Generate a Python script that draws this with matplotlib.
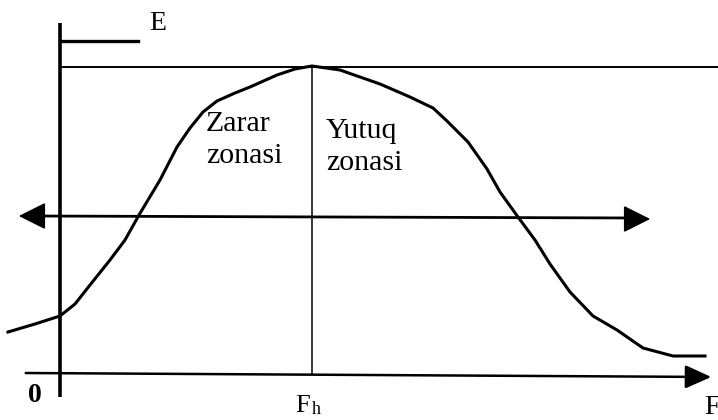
import numpy as np
import matplotlib.pyplot as plt

# egri chiziq nuqtalari (rasmdan o'qilgan)
curve_x = [-52, -25, 0, 15, 30, 50, 65, 79, 100, 117, 130, 143, 157, 175, 190, 217, 235,
           252, 280, 320, 350, 373, 387, 408, 427, 440, 458, 475, 490, 510, 533,
           557, 583, 613, 645]
curve_y = [42, 50, 58, 70, 89, 114, 134, 159, 194, 227, 246, 262, 273, 281, 287, 299, 305,
           308, 304, 290, 277, 266, 253, 232, 205, 182, 157, 134, 110, 82, 58,
           44, 26, 18, 18]

peak_x = 252
peak_y = 307
mid_y = 158
e_level = 333

zone_labels = ['Zarar\nzonasi', 'Yutuq\nzonasi']

fig = plt.figure(figsize=(7.18, 4.2), dpi=100)
ax = fig.add_axes([0, 0, 1, 1])
ax.set_xlim(-60, 658)
ax.set_ylim(-46, 374)
ax.axis('off')

serif = 'Liberation Serif'

# o'qlar
ax.plot([0, 0], [-23, 351], color='black', lw=2.6, solid_capstyle='butt')
ax.annotate('', xy=(654, -3), xytext=(-37, 1),
            arrowprops=dict(arrowstyle='-|>,head_length=1.0,head_width=0.45',
                            color='black', lw=1.8, mutation_scale=16))

# E chizig'i va yuqori chiziq
ax.plot([0, 78], [e_level, e_level], color='black', lw=2.4)
ax.plot([0, 658], [peak_y, peak_y], color='black', lw=1.4)

# markaziy vertikal chiziq
ax.plot([peak_x, peak_x], [0, peak_y], color='black', lw=1.1)

# ikki tomonlama strelka
ax.plot([-25, 575], [mid_y, mid_y - 2], color='black', lw=2.0)
ax.annotate('', xy=(-44, mid_y), xytext=(-15, mid_y),
            arrowprops=dict(arrowstyle='-|>,head_length=1.0,head_width=0.5',
                            color='black', lw=1.2, mutation_scale=17))
ax.annotate('', xy=(593, mid_y - 3), xytext=(565, mid_y - 3),
            arrowprops=dict(arrowstyle='-|>,head_length=1.0,head_width=0.5',
                            color='black', lw=1.2, mutation_scale=17))

# egri chiziq
ax.plot(curve_x, curve_y, color='black', lw=2.2, solid_joinstyle='round')

# matnlar
ax.text(89, 350, 'E', fontsize=20, family=serif, ha='left', va='center')
ax.text(146, 263, zone_labels[0], fontsize=21.5, family=serif, ha='left', va='top',
        linespacing=1.3)
ax.text(266, 256, zone_labels[1], fontsize=21.5, family=serif, ha='left', va='top',
        linespacing=1.3)
ax.text(-25, -22, '0', fontsize=20, family=serif, fontweight='bold',
        ha='center', va='center')
ax.text(243, -32, 'F', fontsize=19, family=serif, ha='center', va='center')
ax.text(256, -36, 'h', fontsize=13, family=serif, ha='center', va='center')
ax.text(644, -34, 'F', fontsize=20, family=serif, ha='left', va='center')

fig.savefig('out.png', dpi=100)
